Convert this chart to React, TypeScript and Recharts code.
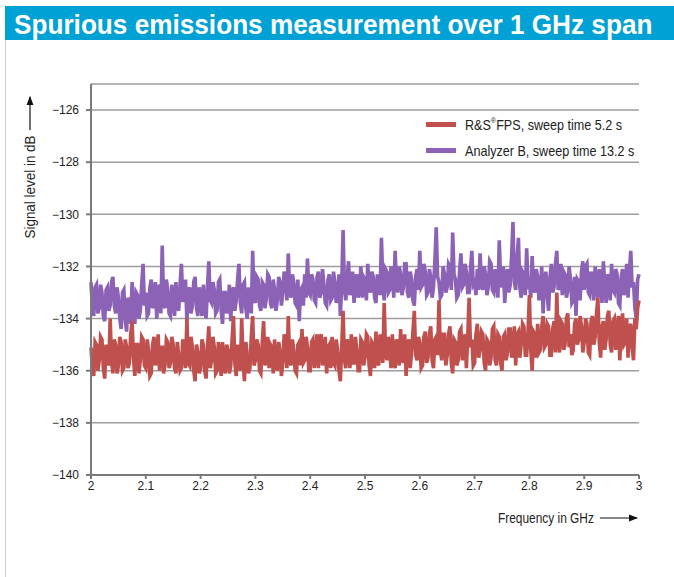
import React from 'react';
import { LineChart, Line, XAxis, YAxis, CartesianGrid } from 'recharts';

// sweep grid: 2.000 ... 3.000 GHz, 2.5 MHz steps
const freqGHz = Array.from({ length: 401 }, (_, i) => +(2 + i * 0.0025).toFixed(4));

const fpsLevel = [
  -135.1, -135.9, -136.2, -134.9, -135.0, -136.0, -135.6, -134.7, -134.8, -135.9, -136.3, -135.0, -135.2, -135.8, -134.0, -135.6, -136.1, -134.8, -135.0, -136.1,
  -135.8, -134.7, -134.9, -136.0, -135.9, -134.8, -135.1, -135.9, -135.7, -134.6, -134.1, -135.5, -136.2, -135.0, -135.0, -136.1, -135.6, -134.7, -134.8, -135.8,
  -135.9, -134.8, -135.2, -136.2, -136.1, -135.0, -134.7, -135.8, -135.5, -134.6, -136.0, -135.1, -135.1, -136.1, -135.8, -134.8, -134.9, -135.9, -135.7, -134.7,
  -135.0, -135.9, -136.1, -134.9, -135.4, -136.0, -135.9, -134.8, -135.2, -135.9, -134.0, -135.7, -135.8, -134.7, -135.1, -136.0, -136.4, -135.0, -135.3, -136.1,
  -135.9, -134.8, -135.0, -136.0, -136.3, -135.1, -134.3, -135.9, -135.6, -134.7, -135.1, -136.1, -136.0, -134.9, -135.4, -136.2, -134.9, -135.8, -136.1, -135.0,
  -135.2, -136.1, -135.8, -134.8, -133.9, -135.7, -136.2, -135.0, -135.3, -136.0, -134.0, -135.6, -136.4, -134.9, -135.4, -136.1, -135.9, -134.7, -133.9, -135.8,
  -135.6, -134.8, -135.0, -136.0, -136.1, -134.9, -134.1, -135.8, -135.5, -134.7, -135.9, -135.0, -135.1, -136.1, -134.8, -135.7, -136.0, -134.9, -135.3, -136.2,
  -135.7, -134.6, -134.9, -135.9, -133.9, -135.6, -135.8, -134.8, -135.2, -136.0, -136.1, -135.0, -134.9, -135.8, -134.4, -135.7, -135.6, -134.7, -135.1, -136.0,
  -136.0, -134.9, -134.8, -135.9, -135.4, -134.6, -135.9, -134.8, -134.6, -135.8, -135.5, -134.7, -136.1, -135.1, -135.0, -135.9, -134.7, -135.7, -135.8, -134.8,
  -135.2, -136.0, -136.4, -135.1, -133.7, -135.6, -135.9, -134.8, -135.0, -135.9, -134.6, -135.7, -135.7, -134.7, -135.2, -136.0, -136.0, -134.8, -134.9, -135.8,
  -135.5, -134.6, -134.7, -135.8, -136.2, -134.9, -135.0, -135.9, -134.5, -135.6, -135.8, -134.6, -134.9, -135.7, -133.4, -135.3, -135.6, -134.7, -135.1, -135.9,
  -134.6, -135.7, -135.9, -134.8, -135.0, -135.8, -134.4, -135.5, -135.7, -134.6, -136.2, -135.0, -134.8, -135.9, -135.3, -134.5, -133.7, -135.4, -135.6, -134.7,
  -134.9, -135.9, -135.8, -134.7, -134.5, -135.7, -135.5, -134.6, -134.3, -135.6, -135.9, -134.8, -134.7, -135.4, -133.3, -135.2, -135.6, -134.6, -134.6, -135.8,
  -135.4, -134.6, -134.3, -135.7, -136.1, -134.8, -134.9, -135.8, -135.6, -134.5, -134.4, -135.6, -135.2, -134.6, -135.9, -134.7, -133.2, -135.1, -134.8, -135.8,
  -135.7, -134.6, -134.2, -135.5, -135.2, -134.5, -134.6, -135.7, -136.0, -134.8, -134.9, -135.8, -135.5, -134.4, -134.3, -135.6, -135.8, -134.6, -134.7, -135.7,
  -136.0, -134.7, -134.6, -135.6, -135.3, -134.4, -134.4, -135.5, -135.1, -134.3, -135.8, -134.6, -134.5, -135.5, -135.0, -134.2, -134.3, -135.4, -135.4, -134.5,
  -133.1, -135.2, -136.0, -134.5, -134.6, -135.5, -134.2, -135.3, -135.2, -134.3, -133.9, -135.1, -135.0, -134.2, -134.3, -135.4, -135.4, -134.4, -134.1, -135.3,
  -133.0, -134.9, -135.3, -134.1, -134.2, -135.2, -135.0, -134.0, -133.8, -135.1, -134.6, -135.4, -135.2, -134.2, -134.0, -135.0, -134.8, -133.9, -134.3, -135.3,
  -134.9, -134.0, -134.2, -135.3, -135.4, -134.1, -133.9, -135.0, -134.7, -133.8, -133.2, -134.9, -135.5, -134.3, -134.1, -135.2, -134.8, -133.9, -133.7, -135.0,
  -135.3, -134.1, -134.0, -135.2, -134.6, -133.9, -135.6, -134.3, -133.8, -135.0, -134.9, -134.0, -135.5, -134.4, -134.2, -135.1, -135.6, -134.0, -134.4, -133.6,
  -133.3,
];

const analyzerBLevel = [
  -132.6, -133.6, -133.9, -132.8, -132.7, -133.8, -133.6, -132.7, -133.0, -133.9, -134.1, -132.9, -132.8, -133.7, -133.5, -132.6, -132.4, -133.5, -133.8, -132.8,
  -133.2, -134.0, -134.4, -133.0, -132.9, -134.1, -134.5, -133.2, -133.4, -134.2, -132.6, -133.7, -134.2, -133.0, -133.1, -134.0, -133.7, -132.7, -131.9, -133.5,
  -133.0, -133.9, -133.8, -132.8, -132.5, -133.6, -133.4, -132.6, -134.0, -132.9, -132.7, -133.8, -131.2, -133.4, -133.6, -132.5, -132.9, -133.8, -133.9, -132.7,
  -133.1, -133.9, -132.6, -133.5, -133.7, -132.7, -131.9, -133.3, -133.3, -132.5, -134.1, -133.0, -132.8, -133.8, -133.5, -132.6, -132.4, -133.6, -133.9, -132.8,
  -133.2, -133.9, -132.7, -133.6, -134.0, -132.8, -131.8, -133.3, -133.4, -132.6, -132.9, -133.8, -133.7, -132.6, -132.5, -133.7, -134.2, -133.0, -133.0, -133.8,
  -133.6, -132.7, -134.1, -133.0, -132.8, -133.7, -133.3, -132.5, -131.9, -133.4, -133.8, -132.7, -132.6, -133.6, -134.0, -132.8, -133.1, -133.8, -131.4, -133.2,
  -133.4, -132.4, -132.5, -133.5, -133.7, -132.6, -132.7, -133.6, -133.2, -132.3, -132.4, -133.4, -133.6, -132.5, -132.9, -133.7, -133.3, -132.4, -132.6, -133.5,
  -133.0, -132.2, -132.4, -133.3, -131.5, -132.9, -133.2, -132.3, -132.6, -133.4, -133.5, -132.5, -134.1, -132.9, -132.8, -133.5, -132.3, -133.2, -131.7, -133.0,
  -133.1, -132.3, -132.5, -133.3, -133.4, -132.4, -132.2, -133.2, -133.0, -132.1, -132.7, -133.4, -133.5, -132.5, -132.3, -133.3, -133.2, -132.2, -132.6, -133.4,
  -133.1, -132.3, -133.9, -132.7, -130.6, -132.9, -133.3, -132.4, -131.8, -133.1, -132.9, -132.2, -133.4, -132.5, -132.3, -133.2, -132.8, -132.0, -133.2, -132.4,
  -132.5, -133.3, -131.9, -132.8, -133.0, -132.2, -132.4, -133.2, -133.4, -132.3, -132.7, -133.1, -130.9, -132.6, -133.3, -132.1, -132.2, -133.0, -132.9, -132.0,
  -132.4, -133.2, -131.4, -132.7, -133.0, -132.0, -132.3, -133.1, -132.8, -131.9, -131.9, -133.0, -133.2, -132.2, -132.5, -133.3, -133.5, -132.4, -132.1, -132.9,
  -131.4, -132.8, -132.7, -131.9, -132.2, -133.1, -133.0, -132.1, -132.4, -133.2, -132.8, -131.8, -130.5, -132.4, -132.6, -133.2, -133.1, -132.0, -132.3, -133.0,
  -132.8, -131.9, -132.0, -132.9, -130.7, -132.3, -132.5, -133.2, -133.1, -132.2, -131.5, -132.8, -132.7, -131.9, -132.2, -133.0, -133.0, -132.1, -131.4, -132.7,
  -132.6, -133.1, -132.1, -132.9, -131.5, -132.6, -132.9, -132.0, -132.3, -133.1, -132.8, -131.8, -131.9, -132.9, -133.0, -132.1, -132.4, -133.2, -131.0, -132.5,
  -132.8, -132.0, -133.4, -132.5, -132.1, -133.0, -132.7, -131.6, -130.3, -132.6, -132.9, -131.7, -130.9, -132.8, -133.2, -132.2, -132.3, -133.1, -131.3, -132.7,
  -132.6, -133.2, -131.6, -132.8, -133.0, -132.1, -132.4, -133.3, -132.9, -132.0, -133.8, -132.6, -132.2, -133.1, -133.7, -132.4, -131.9, -133.0, -132.8, -131.9,
  -131.4, -132.9, -132.7, -131.9, -133.1, -132.2, -132.3, -133.2, -132.9, -132.0, -132.5, -133.4, -133.3, -132.4, -133.9, -132.5, -132.6, -133.3, -132.2, -131.8,
  -132.9, -132.0, -131.9, -133.0, -133.1, -132.2, -132.4, -133.3, -132.0, -132.8, -133.2, -132.1, -132.6, -133.4, -131.8, -132.7, -133.4, -132.3, -132.5, -133.3,
  -131.9, -132.9, -133.0, -132.1, -132.3, -133.4, -133.5, -132.4, -132.1, -133.1, -132.8, -131.9, -133.2, -132.2, -131.4, -132.8, -132.6, -133.6, -134.0, -132.5,
  -132.3,
];

const xTicks = [2, 2.1, 2.2, 2.3, 2.4, 2.5, 2.6, 2.7, 2.8, 2.9, 3];
const yTicks = [-140, -138, -136, -134, -132, -130, -128, -126];

const seriesNames = ['R&S®FPS, sweep time 5.2 s', 'Analyzer B, sweep time 13.2 s'];

const data = freqGHz.map((f, i) => ({ f, fps: fpsLevel[i], anb: analyzerBLevel[i] }));

const FONT = '"Liberation Sans", Arial, sans-serif';
const RED = '#c0504d';
const PURPLE = '#8b62b6';
const tickStyle = { fill: '#222', fontSize: 12, fontFamily: FONT };

export default function App() {
  return (
    <div style={{ position: 'absolute', left: 0, top: 0, width: 674, height: 577, background: '#fff' }}>
      <div style={{ position: 'absolute', left: 5, top: 6, width: 669, height: 34, background: '#00a1d4' }} />
      <div style={{ position: 'absolute', left: 5, top: 40, width: 1, bottom: 0, background: '#cfcfcf' }} />
      <div style={{ position: 'absolute', left: 0, top: 0 }}>
        <LineChart width={674} height={577} data={data} margin={{ top: 84, right: 35, bottom: 72, left: 0 }}>
          <CartesianGrid vertical={false} stroke="#9d9d9d" strokeWidth={1.5} />
          <XAxis
            dataKey="f"
            type="number"
            domain={[2, 3]}
            ticks={xTicks}
            height={30}
            tickFormatter={(v) => String(+Number(v).toFixed(1))}
            stroke="#7a7a7a"
            strokeWidth={2}
            tickSize={4}
            tick={tickStyle}
          />
          <YAxis
            type="number"
            domain={[-140, -125]}
            ticks={yTicks}
            width={91}
            tickFormatter={(v) => '\u2212' + Math.abs(v)}
            stroke="#7a7a7a"
            strokeWidth={2}
            tickSize={5}
            tickMargin={7}
            tick={tickStyle}
          />
          <Line
            name={seriesNames[1]}
            dataKey="anb"
            stroke={PURPLE}
            strokeWidth={3.6}
            dot={false}
            isAnimationActive={false}
          />
          <Line
            name={seriesNames[0]}
            dataKey="fps"
            stroke={RED}
            strokeWidth={3.6}
            dot={false}
            isAnimationActive={false}
          />
        </LineChart>
      </div>
      <svg width={674} height={577} style={{ position: 'absolute', left: 0, top: 0, pointerEvents: 'none' }}>
        <defs>
          <marker id="ah" markerWidth="8" markerHeight="6" refX="7" refY="3" orient="auto">
            <path d="M0,0 L8,3 L0,6 z" fill="#111" />
          </marker>
        </defs>
        <g transform="translate(14,24) scale(0.935,1)">
          <text x={0} y={0} dominantBaseline="central" fontFamily={FONT} fontWeight="bold" fontSize={28} fill="#fff">
            Spurious emissions measurement over 1 GHz span
          </text>
        </g>

        {/* legend */}
        <rect x={426} y={122} width={30} height={5} fill={RED} />
        <g transform="translate(465,125) scale(0.9,1)">
          <text x={0} y={0} dominantBaseline="central" fontFamily={FONT} fontSize={14} fill="#222">
            R&amp;S<tspan fontSize={8} baselineShift="super">®</tspan>FPS, sweep time 5.2 s
          </text>
        </g>
        <rect x={426} y={148} width={30} height={5} fill={PURPLE} />
        <g transform="translate(465,151) scale(0.9,1)">
          <text x={0} y={0} dominantBaseline="central" fontFamily={FONT} fontSize={14} fill="#222">
            {seriesNames[1]}
          </text>
        </g>

        <g transform="translate(30,187) rotate(-90) scale(0.96,1)">
          <text x={0} y={0} textAnchor="middle" dominantBaseline="central" fontFamily={FONT} fontSize={14} fill="#222">
            Signal level in dB
          </text>
        </g>
        <line x1={30} y1={130} x2={30} y2={97} stroke="#111" strokeWidth={1.2} markerEnd="url(#ah)" />
        <g transform="translate(498,518) scale(0.85,1)">
          <text x={0} y={0} dominantBaseline="central" fontFamily={FONT} fontSize={14} fill="#222">
            Frequency in GHz
          </text>
        </g>
        <line x1={600} y1={518} x2={637} y2={518} stroke="#111" strokeWidth={1.2} markerEnd="url(#ah)" />
      </svg>
    </div>
  );
}
